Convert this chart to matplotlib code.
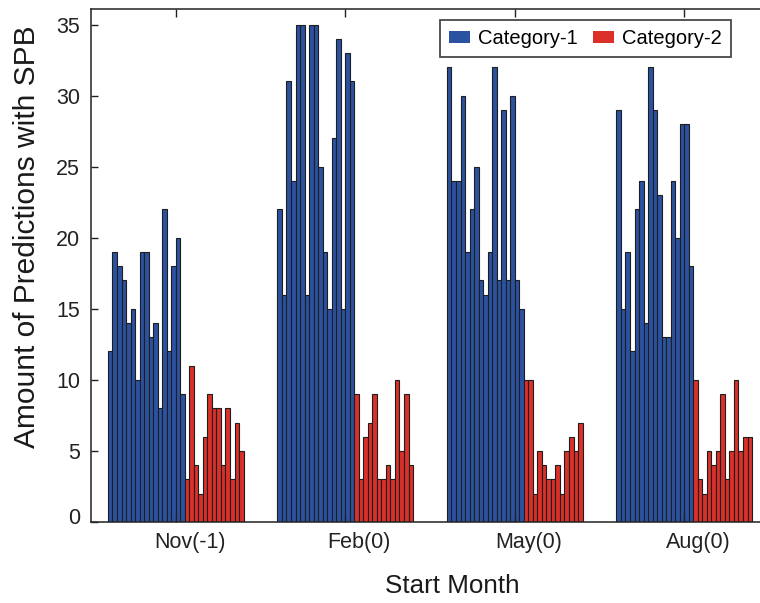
import numpy as np
import matplotlib
matplotlib.use("Agg")
import matplotlib.pyplot as plt
from matplotlib.transforms import ScaledTranslation

plt.rcParams['font.family'] = ['Liberation Sans', 'DejaVu Sans']

months = ["Nov(-1)", "Feb(0)", "May(0)", "Aug(0)"]
series_names = ["Category-1", "Category-2"]

cat1_nov = [12, 19, 18, 17, 14, 15, 10, 19, 19, 13, 14, 8, 22, 12, 18, 20, 9]
cat2_nov = [3, 11, 4, 2, 6, 9, 8, 8, 4, 8, 3, 7, 5]
cat1_feb = [22, 16, 31, 24, 35, 35, 16, 35, 35, 25, 19, 15, 27, 34, 15, 33, 31]
cat2_feb = [9, 3, 6, 7, 9, 3, 3, 4, 3, 10, 5, 9, 4]
cat1_may = [32, 24, 24, 30, 19, 22, 25, 17, 16, 19, 32, 17, 29, 17, 30, 17, 15]
cat2_may = [10, 10, 2, 5, 4, 3, 3, 4, 2, 5, 6, 5, 7]
cat1_aug = [29, 15, 19, 12, 22, 24, 14, 32, 29, 23, 13, 13, 24, 20, 28, 28, 18]
cat2_aug = [10, 3, 2, 5, 4, 5, 9, 3, 5, 10, 5, 6, 6]

cat1 = [cat1_nov, cat1_feb, cat1_may, cat1_aug]
cat2 = [cat2_nov, cat2_feb, cat2_may, cat2_aug]

yticks = [0, 5, 10, 15, 20, 25, 30, 35]

blue = '#2b51a1'
red = '#da3029'
edge = '#1e1e1e'

W, H = 760, 603
fig = plt.figure(figsize=(W / 100, H / 100), dpi=100)
ax = fig.add_axes([91 / W, 81 / H, 678 / W, 513 / H])

group_width = 0.8
for gi, (b, r) in enumerate(zip(cat1, cat2)):
    vals = list(b) + list(r)
    n = len(vals)
    w = group_width / n
    center = gi + 1
    xs = center - group_width / 2 + (np.arange(n) + 0.5) * w
    nb = len(b)
    ax.bar(xs[:nb], b, width=w, color=blue, edgecolor=edge, linewidth=0.8,
           label=series_names[0] if gi == 0 else None)
    ax.bar(xs[nb:], r, width=w, color=red, edgecolor=edge, linewidth=0.8,
           label=series_names[1] if gi == 0 else None)

ax.set_xlim(0.5, 4.5)
ax.set_ylim(0, 36.1)
ax.set_yticks(yticks)
ax.set_xticks(range(1, len(months) + 1))
ax.set_xticklabels(months)

for s in ax.spines.values():
    s.set_linewidth(1.1)
    s.set_color('#222222')

ax.tick_params(axis='y', direction='in', length=5, width=1, labelsize=15.5, pad=8,
               right=True, colors='#222222')
ax.tick_params(axis='x', direction='in', length=6, width=1, labelsize=15.5, pad=7,
               top=True, colors='#222222')
off = ScaledTranslation(14 / 100, 0, fig.dpi_scale_trans)
for lbl in ax.get_xticklabels():
    lbl.set_transform(lbl.get_transform() + off)
ylbls = ax.get_yticklabels()
ylbls[0].set_transform(ylbls[0].get_transform() +
                       ScaledTranslation(0, 6 / 100, fig.dpi_scale_trans))

fig.text(452 / W, 1 - 586 / H, "Start Month", ha='center', va='center', fontsize=18.7,
         color='#1a1a1a')
fig.text(27 / W, 1 - 237 / H, "Amount of Predictions with SPB", ha='center', va='center',
         rotation=90, fontsize=21.5, color='#1a1a1a')

leg = ax.legend(loc='upper right', bbox_to_anchor=(731 / W, 1 - 20 / H),
                bbox_transform=fig.transFigure, ncol=2, fontsize=14.5,
                frameon=True, fancybox=False, borderaxespad=0,
                handlelength=1.05, handleheight=0.5, handletextpad=0.4,
                columnspacing=0.75, borderpad=0.45)
leg.get_frame().set_edgecolor('#1a1a1a')
leg.get_frame().set_linewidth(1.3)
for h in leg.legend_handles:
    h.set_edgecolor('none')

fig.savefig("out.png", dpi=100)
